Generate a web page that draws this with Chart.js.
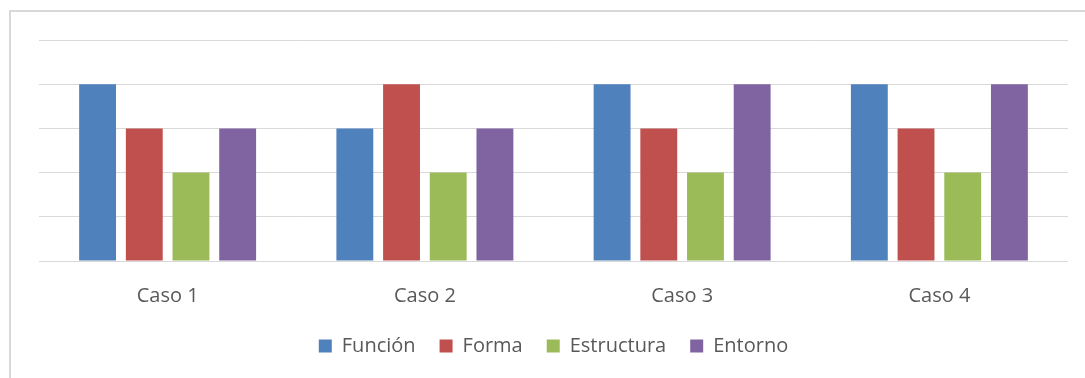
<!DOCTYPE html>
<html>
<head>
<meta charset="utf-8">
<script src="https://cdn.jsdelivr.net/npm/chart.js@4"></script>
<style>
  html, body { margin: 0; padding: 0; background: #fff; }
  #wrap { position: relative; width: 1085px; height: 378px; overflow: hidden; }
  #frame { position: absolute; left: 9px; top: 10px; width: 1100px; height: 400px;
           border-left: 2px solid #d9d9d9; border-top: 2px solid #d9d9d9; }
  canvas { position: absolute; left: 0; top: 0; }
</style>
</head>
<body>
<div id="wrap">
  <div id="frame"></div>
  <canvas id="chart" width="1085" height="378"></canvas>
</div>
<script>
// data
const casos = ['Caso 1', 'Caso 2', 'Caso 3', 'Caso 4'];
const funcion = [4, 3, 4, 4];
const forma = [3, 4, 3, 3];
const estructura = [2, 2, 2, 2];
const entorno = [3, 3, 4, 4];

const textColor = '#595959';
const fontFamily = '"Open Sans", sans-serif';

function serie(label, data, color) {
    return {
        label: label,
        data: data,
        backgroundColor: color,
        borderWidth: 0,
        categoryPercentage: 0.726,
        barPercentage: 0.79
    };
}

const ctx = document.getElementById('chart').getContext('2d');
let chart = new Chart(ctx, {
    type: 'bar',
    data: {
        labels: casos,
        datasets: [
            serie('Función', funcion, '#4F81BD'),
            serie('Forma', forma, '#C0504D'),
            serie('Estructura', estructura, '#9BBB59'),
            serie('Entorno', entorno, '#8064A2')
        ]
    },
    options: {
        responsive: false,
        animation: false,
        layout: { padding: { left: 39, right: 17, top: 40, bottom: 12 } },
        plugins: {
            tooltip: { enabled: false },
            legend: {
                position: 'bottom',
                labels: {
                    boxWidth: 13,
                    boxHeight: 13,
                    padding: 24,
                    color: textColor,
                    font: { family: fontFamily, size: 20 }
                }
            }
        },
        scales: {
            x: {
                grid: { display: false, drawTicks: false },
                border: { display: false },
                ticks: {
                    color: textColor,
                    padding: 23,
                    font: { family: fontFamily, size: 20 }
                },
                // shrink the axis box so the legend sits closer to the labels
                afterFit: function (scale) { scale.height -= 19; }
            },
            y: {
                min: 0,
                max: 5,
                grid: { color: '#d9d9d9', lineWidth: 1, drawTicks: false },
                border: { display: false },
                ticks: { display: false, stepSize: 1 }
            }
        }
    }
});
</script>
</body>
</html>
